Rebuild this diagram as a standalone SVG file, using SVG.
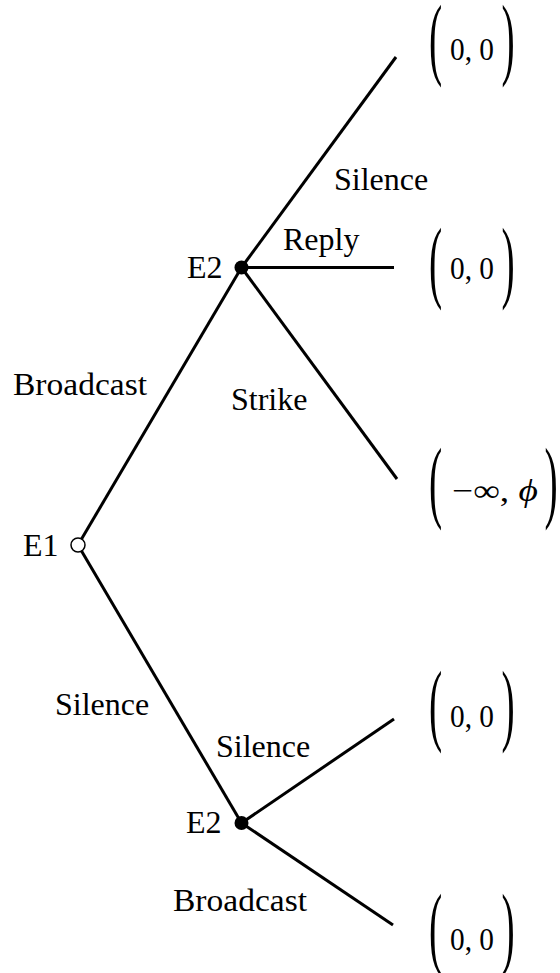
<svg xmlns="http://www.w3.org/2000/svg" width="560" height="973" viewBox="0 0 560 973">
<style>
text{font-family:'Liberation Serif','Times New Roman','DejaVu Serif',serif;fill:#000}
.lbl{font-size:32px}
.pay{font-size:31px}
.par{font-size:36px}
.edge{stroke:#000;stroke-width:3;fill:none;stroke-linecap:butt}
</style>
<rect width="560" height="973" fill="#fff"/>
<g id="connectors">
<line class="edge" x1="78" y1="545" x2="241.5" y2="267.5"/>
<line class="edge" x1="78" y1="545" x2="241.5" y2="823"/>
<line class="edge" x1="241.5" y1="267.5" x2="396" y2="57"/>
<line class="edge" x1="241.5" y1="267.5" x2="394" y2="267.5"/>
<line class="edge" x1="241.5" y1="267.5" x2="397" y2="479"/>
<line class="edge" x1="241.5" y1="823" x2="394" y2="719"/>
<line class="edge" x1="241.5" y1="823" x2="393" y2="925"/>
</g>
<g id="edge-labels" font-family="Liberation Serif, DejaVu Serif, serif">
<text class="lbl" x="13" y="395" textLength="134" lengthAdjust="spacingAndGlyphs">Broadcast</text>
<text class="lbl" x="55" y="715">Silence</text>
<text class="lbl" x="334" y="190">Silence</text>
<text class="lbl" x="283" y="250">Reply</text>
<text class="lbl" x="231" y="410">Strike</text>
<text class="lbl" x="216" y="757">Silence</text>
<text class="lbl" x="173" y="911" textLength="134" lengthAdjust="spacingAndGlyphs">Broadcast</text>
</g>
<g id="E1" font-family="Liberation Serif, DejaVu Serif, serif">
<circle cx="78" cy="545" r="7" fill="#fff" stroke="#000" stroke-width="1.5"/>
<text class="lbl" x="23" y="556">E1</text>
</g>
<g id="E2-top" font-family="Liberation Serif, DejaVu Serif, serif">
<circle cx="241.5" cy="267.5" r="7" fill="#000"/>
<text class="lbl" x="187" y="278">E2</text>
</g>
<g id="E2-bottom" font-family="Liberation Serif, DejaVu Serif, serif">
<circle cx="241.5" cy="823" r="7" fill="#000"/>
<text class="lbl" x="186" y="833">E2</text>
</g>
<g id="payoff-1" font-family="Liberation Serif, DejaVu Serif, serif">
<text class="par" transform="translate(429,67.8) scale(1.1,2.5)">(</text>
<text class="pay" x="450" y="60" textLength="44" lengthAdjust="spacingAndGlyphs">0, 0</text>
<text class="par" transform="translate(501.5,67.8) scale(1.1,2.5)">)</text>
</g>
<g id="payoff-2" font-family="Liberation Serif, DejaVu Serif, serif">
<text class="par" transform="translate(429,290.8) scale(1.1,2.5)">(</text>
<text class="pay" x="450" y="279" textLength="44" lengthAdjust="spacingAndGlyphs">0, 0</text>
<text class="par" transform="translate(501.5,290.8) scale(1.1,2.5)">)</text>
</g>
<g id="payoff-3" font-family="Liberation Serif, DejaVu Serif, serif">
<text class="par" transform="translate(429,510.8) scale(1.1,2.5)">(</text>
<text class="pay" x="452" y="501" textLength="86" lengthAdjust="spacingAndGlyphs">−∞, <tspan font-style="italic">ϕ</tspan></text>
<text class="par" transform="translate(544.5,510.8) scale(1.1,2.5)">)</text>
</g>
<g id="payoff-4" font-family="Liberation Serif, DejaVu Serif, serif">
<text class="par" transform="translate(429,733.8) scale(1.1,2.5)">(</text>
<text class="pay" x="450" y="727" textLength="44" lengthAdjust="spacingAndGlyphs">0, 0</text>
<text class="par" transform="translate(501.5,733.8) scale(1.1,2.5)">)</text>
</g>
<g id="payoff-5" font-family="Liberation Serif, DejaVu Serif, serif">
<text class="par" transform="translate(429,956.8) scale(1.1,2.5)">(</text>
<text class="pay" x="450" y="950" textLength="44" lengthAdjust="spacingAndGlyphs">0, 0</text>
<text class="par" transform="translate(501.5,956.8) scale(1.1,2.5)">)</text>
</g>
</svg>
